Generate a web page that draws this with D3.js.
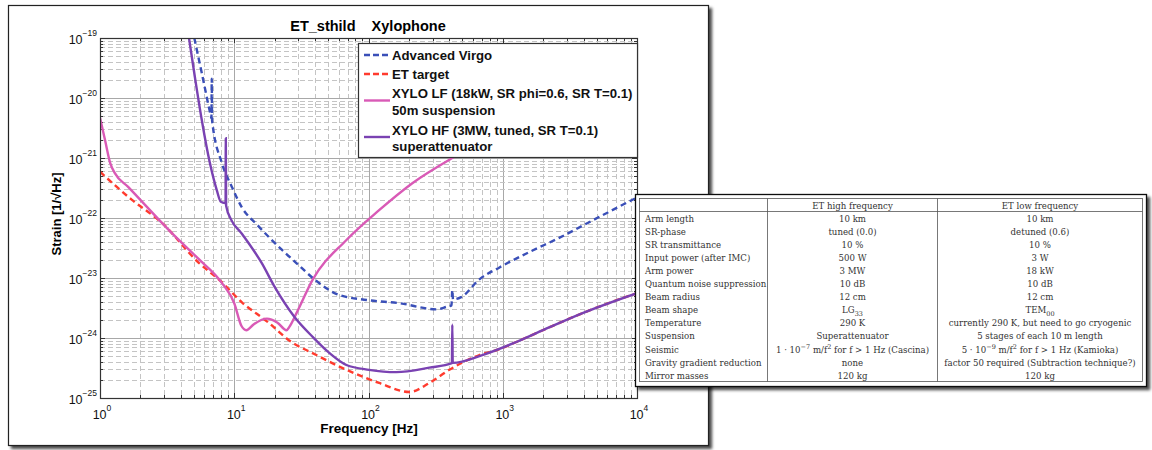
<!DOCTYPE html>
<html lang="en">
<head>
<meta charset="utf-8">
<title>ET_sthild Xylophone</title>
<script src="https://cdn.jsdelivr.net/npm/d3@7"></script>
<style>
body { margin: 0; background: #fff; }
svg { display: block; font-family: "Liberation Sans", Arial, sans-serif; }
</style>
</head>
<body>
<svg id="fig" width="1152" height="450"></svg>
<script>
// ---- data (frequency [Hz], strain [1/sqrt(Hz)]) ----
var virgo = [[5.04, 1.0e-19], [5.73, 2.6e-20], [6.7, 5.0e-21], [6.76, 4.6e-21], [6.8, 2.1e-20], [6.84, 4.2e-21],
  [8.08, 8.3e-22], [9.6, 3.3e-22], [11.4, 1.5e-22], [14.9, 7.6e-23], [24.5, 2.5e-23], [28.1, 1.9e-23],
  [41, 8.9e-24], [58, 5.4e-24], [97, 4.3e-24], [170, 3.8e-24], [320, 3.0e-24], [380, 3.3e-24],
  [415, 3.5e-24], [421, 6.3e-24], [426, 4.4e-24], [490, 4.8e-24], [670, 9.5e-24], [945, 1.5e-23],
  [1575, 2.7e-23], [2650, 4.7e-23], [5260, 1.05e-22], [10000, 2.2e-22]];

var etTarget = [[1, 5.9e-22], [1.73, 2.0e-22], [2.89, 8.3e-23], [5.35, 1.86e-23], [8.08, 8.5e-24],
  [11.3, 4.0e-24], [17.7, 1.86e-24], [26.8, 8.5e-25], [38.3, 5.6e-25], [68.5, 2.95e-25], [120, 1.78e-25],
  [202, 1.26e-25], [284, 1.78e-25], [400, 2.95e-25], [670, 5.2e-25], [944, 6.5e-25], [1250, 8.5e-25],
  [2215, 1.5e-24], [3930, 2.6e-24], [10000, 5.6e-24]];

var xyloLF = [[1, 4.7e-21], [1.09, 2.0e-21], [1.19, 8.3e-22], [1.29, 5.6e-22], [1.62, 3.3e-22],
  [3.43, 5.6e-23], [5.35, 2.14e-23], [8.08, 8.3e-24], [10.0, 3.8e-24], [11.3, 1.6e-24], [12.3, 1.35e-24],
  [14, 1.7e-24], [17.5, 2.1e-24], [21.0, 1.8e-24], [24.5, 1.35e-24], [25.8, 1.55e-24], [29.1, 2.6e-24],
  [38.3, 9.3e-24], [68.5, 4.3e-23], [120, 1.35e-22], [212, 3.8e-22], [421, 1.0e-21], [2218, 5.9e-21],
  [10000, 2.95e-20]];

var xyloHF = [[4.6, 1.0e-19], [5.09, 2.24e-20], [5.73, 4.3e-21], [6.58, 8.3e-22], [7.4, 2.95e-22],
  [7.95, 1.86e-22], [8.5, 1.78e-22], [8.62, 1.8e-22], [8.65, 2.14e-21], [8.7, 1.6e-22], [9.5, 9.3e-23],
  [11.3, 5.6e-23], [16.0, 1.78e-23], [20.0, 7.1e-24], [28.1, 2.24e-24], [38.3, 1.05e-24], [51.3, 5.6e-25],
  [68.5, 3.55e-25], [101, 2.95e-25], [161, 2.7e-25], [284, 3.2e-25], [418, 3.8e-25], [421, 1.66e-24],
  [424, 3.85e-25], [705, 5.2e-25], [1250, 8.5e-25], [2215, 1.5e-24], [3930, 2.6e-24], [10000, 5.6e-24]];

var xTickExp = [0, 1, 2, 3, 4];
var yTickExp = [-25, -24, -23, -22, -21, -20, -19];

var legendNames = [["Advanced Virgo"], ["ET target"],
  ["XYLO LF (18kW, SR phi=0.6, SR T=0.1)", "50m suspension"],
  ["XYLO HF (3MW, tuned, SR T=0.1)", "superattenuator"]];

// table overlay
var tableHead = ["", "ET high frequency", "ET low frequency"];
var tableParams = ["Arm length", "SR-phase", "SR transmittance", "Input power (after IMC)", "Arm power",
  "Quantum noise suppression", "Beam radius", "Beam shape", "Temperature", "Suspension", "Seismic",
  "Gravity gradient reduction", "Mirror masses"];
var tableHF = ["10 km", "tuned (0.0)", "10 %", "500 W", "3 MW", "10 dB", "12 cm", "LG_{33}", "290 K",
  "Superattenuator", "1 · 10^{−7} m/f^{2} for f > 1 Hz (Cascina)", "none", "120 kg"];
var tableLF = ["10 km", "detuned (0.6)", "10 %", "3 W", "18 kW", "10 dB", "12 cm", "TEM_{00}",
  "currently 290 K, but need to go cryogenic", "5 stages of each 10 m length",
  "5 · 10^{−9} m/f^{2} for f > 1 Hz (Kamioka)", "factor 50 required (Subtraction technique?)", "120 kg"];

// ---- layout ----
var svg = d3.select("#fig");
var plot = {left: 100, right: 637, top: 38, bottom: 398};

var defs = svg.append("defs");
var shadow = defs.append("filter").attr("id", "shadow")
    .attr("x", "-5%").attr("y", "-5%").attr("width", "115%").attr("height", "115%");
shadow.append("feDropShadow").attr("dx", 3).attr("dy", 3).attr("stdDeviation", 1.8)
    .attr("flood-color", "#000").attr("flood-opacity", 0.7);
defs.append("clipPath").attr("id", "clip").append("rect")
    .attr("x", plot.left).attr("y", plot.top)
    .attr("width", plot.right - plot.left).attr("height", plot.bottom - plot.top);

// figure panel
svg.append("rect").attr("x", 8.5).attr("y", 5.5).attr("width", 700).attr("height", 440)
    .attr("fill", "#fff").attr("stroke", "#222").attr("stroke-width", 1.2)
    .attr("filter", "url(#shadow)");

var x = d3.scaleLog().domain([1, 1e4]).range([plot.left, plot.right]);
var y = d3.scaleLog().domain([1e-25, 1e-19]).range([plot.bottom, plot.top]);

function isDecade(v) { var l = Math.log10(v); return Math.abs(l - Math.round(l)) < 1e-6; }

var g = svg.append("g");

// grid
var xt = x.ticks(), yt = y.ticks();
g.selectAll(".gx").data(xt).enter().append("line")
    .attr("x1", function(d) { return Math.round(x(d)) + 0.5; })
    .attr("x2", function(d) { return Math.round(x(d)) + 0.5; })
    .attr("y1", plot.top).attr("y2", plot.bottom)
    .attr("stroke", function(d) { return isDecade(d) ? "#a8a8a8" : "#c4c4c4"; })
    .attr("stroke-dasharray", function(d) { return isDecade(d) ? null : "5,3"; });
g.selectAll(".gy").data(yt).enter().append("line")
    .attr("y1", function(d) { return Math.round(y(d)) + 0.5; })
    .attr("y2", function(d) { return Math.round(y(d)) + 0.5; })
    .attr("x1", plot.left).attr("x2", plot.right)
    .attr("stroke", function(d) { return isDecade(d) ? "#a8a8a8" : "#c4c4c4"; })
    .attr("stroke-dasharray", function(d) { return isDecade(d) ? null : "5,3"; });

// inner ticks on all sides
xt.forEach(function(d) {
  var px = Math.round(x(d)) + 0.5, len = isDecade(d) ? 5 : 3;
  g.append("line").attr("x1", px).attr("x2", px).attr("y1", plot.bottom).attr("y2", plot.bottom - len).attr("stroke", "#333");
  g.append("line").attr("x1", px).attr("x2", px).attr("y1", plot.top).attr("y2", plot.top + len).attr("stroke", "#333");
});
yt.forEach(function(d) {
  var py = Math.round(y(d)) + 0.5, len = isDecade(d) ? 5 : 3;
  g.append("line").attr("y1", py).attr("y2", py).attr("x1", plot.left).attr("x2", plot.left + len).attr("stroke", "#333");
  g.append("line").attr("y1", py).attr("y2", py).attr("x1", plot.right).attr("x2", plot.right - len).attr("stroke", "#333");
});

// curves
var line = d3.line()
    .x(function(d) { return x(d[0]); })
    .y(function(d) { return y(d[1]); })
    .curve(d3.curveMonotoneX);

var series = [
  {data: virgo, color: "#3a4fb8", dash: "6,4"},
  {data: etTarget, color: "#ff3b2e", dash: "6,4"},
  {data: xyloLF, color: "#d95ab6", dash: null},
  {data: xyloHF, color: "#7a42b2", dash: null}
];
var curves = svg.append("g").attr("clip-path", "url(#clip)");
series.forEach(function(s) {
  curves.append("path").datum(s.data)
      .attr("d", line)
      .attr("fill", "none")
      .attr("stroke", s.color)
      .attr("stroke-width", 2.4)
      .attr("stroke-dasharray", s.dash);
});

// axes box
svg.append("rect").attr("x", plot.left + 0.5).attr("y", plot.top + 0.5)
    .attr("width", plot.right - plot.left).attr("height", plot.bottom - plot.top)
    .attr("fill", "none").attr("stroke", "#333").attr("stroke-width", 1.2);

// tick labels
svg.selectAll(".xl").data(xTickExp).enter().append("text")
    .attr("x", function(d) { return x(Math.pow(10, d)) + 2; })
    .attr("y", 419)
    .attr("text-anchor", "middle")
    .attr("font-size", 12.5).attr("fill", "#111")
    .each(function(d) {
      var t = d3.select(this);
      t.append("tspan").text("10");
      t.append("tspan").attr("dy", -8).attr("font-size", 8.5).text(d);
    });
svg.selectAll(".yl").data(yTickExp).enter().append("text")
    .attr("x", 97)
    .attr("y", function(d) { return y(Math.pow(10, d)) + 6; })
    .attr("text-anchor", "end")
    .attr("font-size", 12.5).attr("fill", "#111")
    .each(function(d) {
      var t = d3.select(this);
      t.append("tspan").text("10");
      t.append("tspan").attr("dy", -8).attr("font-size", 8.5).text("\u2212" + Math.abs(d));
    });

// title and axis labels
svg.append("text").attr("x", 368).attr("y", 31).attr("text-anchor", "middle")
    .attr("font-size", 14.5).attr("font-weight", "bold").attr("xml:space", "preserve")
    .text("ET_sthild    Xylophone");
svg.append("text").attr("x", 369).attr("y", 433).attr("text-anchor", "middle")
    .attr("font-size", 13.5).attr("font-weight", "bold").text("Frequency [Hz]");
svg.append("text").attr("transform", "translate(61,214) rotate(-90)").attr("text-anchor", "middle")
    .attr("font-size", 13).attr("font-weight", "bold").text("Strain [1/\u221AHz]");

// legend
var leg = svg.append("g");
leg.append("rect").attr("x", 358.5).attr("y", 43.5).attr("width", 279).attr("height", 114)
    .attr("fill", "#fff").attr("stroke", "#333").attr("stroke-width", 1.2);
var rowY = [[55], [74], [93, 110], [130, 146]];
legendNames.forEach(function(names, i) {
  var s = series[i];
  var ly = names.length > 1 ? (rowY[i][0] + rowY[i][1]) / 2 - 1 : rowY[i][0];
  leg.append("line").attr("x1", 364).attr("x2", 390).attr("y1", ly).attr("y2", ly)
      .attr("stroke", s.color).attr("stroke-width", 2.4).attr("stroke-dasharray", s.dash ? "6,3" : null);
  names.forEach(function(n, j) {
    leg.append("text").attr("x", 392).attr("y", rowY[i][j] + 4.5)
        .attr("font-size", 13.2).attr("font-weight", "bold").attr("fill", "#111").text(n);
  });
});

// ---- table overlay ----
// "^{..}" = superscript, "_{..}" = subscript
function richText(sel, str) {
  var parts = str.split(/(\^\{[^}]*\}|_\{[^}]*\})/), cur = 0;
  parts.forEach(function(p) {
    if (!p) return;
    var off = 0, txt = p, small = false;
    if (p[0] === "^") { off = -3.5; txt = p.slice(2, -1); small = true; }
    else if (p[0] === "_") { off = 2.5; txt = p.slice(2, -1); small = true; }
    var ts = sel.append("tspan").attr("dy", off - cur).text(txt);
    if (small) ts.attr("font-size", 6.5);
    cur = off;
  });
}

var tab = svg.append("g").attr("font-family", "'DejaVu Serif', 'Liberation Serif', serif");
tab.append("rect").attr("x", 635.5).attr("y", 194.5).attr("width", 511).attr("height", 192)
    .attr("fill", "#fff").attr("stroke", "#111").attr("stroke-width", 1.3)
    .attr("filter", "url(#shadow)");
tab.append("rect").attr("x", 639.5).attr("y", 198.5).attr("width", 503).attr("height", 183)
    .attr("fill", "none").attr("stroke", "#555").attr("stroke-width", 0.8);
var colX = [639.5, 767.5, 937.5, 1142.5];
[1, 2].forEach(function(c) {
  tab.append("line").attr("x1", colX[c]).attr("x2", colX[c]).attr("y1", 198.5).attr("y2", 381.5)
      .attr("stroke", "#555").attr("stroke-width", 0.8);
});
tab.append("line").attr("x1", 639.5).attr("x2", 1142.5).attr("y1", 211.5).attr("y2", 211.5)
    .attr("stroke", "#555").attr("stroke-width", 0.8);

var cellFont = 8.6;
[1, 2].forEach(function(c) {
  tab.append("text").attr("x", (colX[c] + colX[c + 1]) / 2).attr("y", 208.5)
      .attr("text-anchor", "middle").attr("font-size", cellFont).attr("fill", "#333").text(tableHead[c]);
});
tableParams.forEach(function(p, i) {
  var ty = 221.5 + i * 13.1;
  tab.append("text").attr("x", 645).attr("y", ty).attr("font-size", cellFont).attr("fill", "#333").text(p);
  richText(tab.append("text").attr("x", (colX[1] + colX[2]) / 2).attr("y", ty)
      .attr("text-anchor", "middle").attr("font-size", cellFont).attr("fill", "#333"), tableHF[i]);
  richText(tab.append("text").attr("x", (colX[2] + colX[3]) / 2).attr("y", ty)
      .attr("text-anchor", "middle").attr("font-size", cellFont).attr("fill", "#333"), tableLF[i]);
});
</script>
</body>
</html>
